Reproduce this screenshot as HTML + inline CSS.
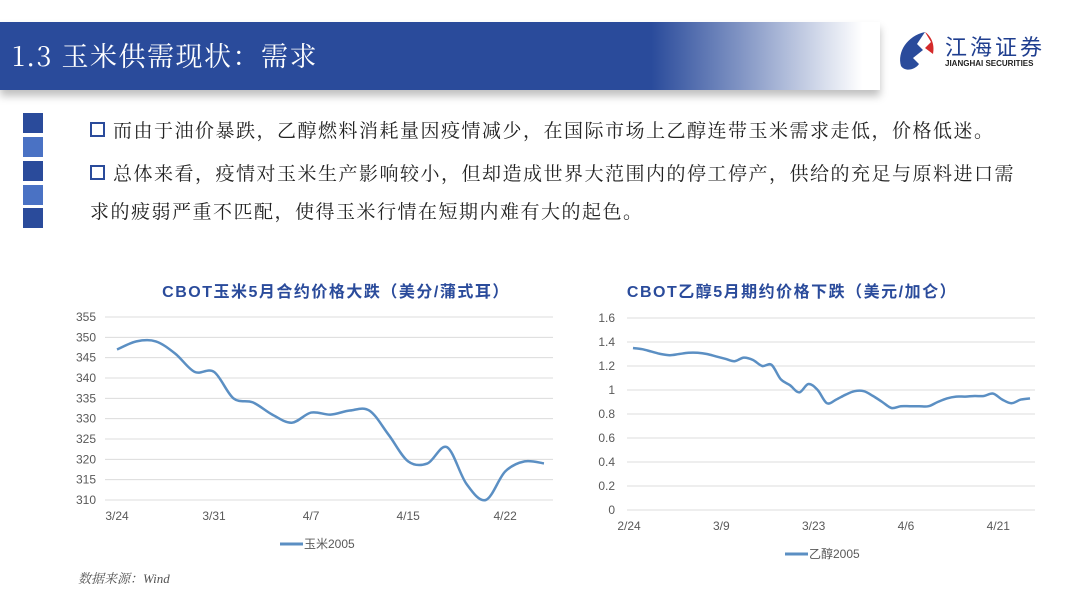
<!DOCTYPE html>
<html><head><meta charset="utf-8"><style>
body{margin:0;width:1080px;height:608px;background:#fff;overflow:hidden;position:relative;font-family:"Liberation Sans","Noto Sans CJK SC",sans-serif}
.banner{position:absolute;left:0;top:22px;width:880px;height:68px;background:linear-gradient(to right,#2a4b9b 0%,#2a4b9b 74%,rgba(42,75,155,0.6) 84%,rgba(255,255,255,0) 98%);box-shadow:0 6px 8px rgba(0,0,0,0.25)}
.title{position:absolute;left:12px;top:35px;color:#fff;font-size:27px;font-family:"Noto Serif CJK SC","Liberation Serif",serif;letter-spacing:1.5px}
.sq{position:absolute;left:23px;width:20px;height:20px}
.txt{position:absolute;left:90px;font-size:19px;color:#222;font-family:"Noto Serif CJK SC","Liberation Serif",serif;letter-spacing:1.5px;white-space:nowrap}
.bx{display:inline-block;width:11px;height:11px;border:2px solid #2a4b9b;margin-right:8px;vertical-align:0px}
.src{position:absolute;left:78px;top:568px;font-size:13px;color:#555;font-style:italic;font-family:"Liberation Serif","Noto Serif CJK SC",serif}
</style></head><body>
<div class="banner"></div>
<div class="title">1.3 玉米供需现状：需求</div>
<div style="position:absolute;left:895px;top:28px;width:170px;height:46px">
<svg width="50" height="46" style="position:absolute;left:0;top:0"><path d="M30 4 C12 8 2 24 6 38 C10 44 20 42 24 36 L18 30 L28 22 L22 16 Z" fill="#2a4b9b"/><path d="M30 4 L36 14 L30 20 L38 26 C40 16 36 8 30 4Z" fill="#d42a2a"/></svg>
<div style="position:absolute;left:50px;top:2px;font-size:22px;color:#1f3e8f;letter-spacing:3px">江海证券</div>
<div style="position:absolute;left:50px;top:31px;font-size:8px;font-weight:bold;color:#222">JIANGHAI SECURITIES</div>
</div>
<div class="sq" style="top:113px;background:#2a4b9b"></div>
<div class="sq" style="top:137px;background:#4a72c4"></div>
<div class="sq" style="top:161px;background:#2a4b9b"></div>
<div class="sq" style="top:185px;background:#4a72c4"></div>
<div class="sq" style="top:208px;background:#2a4b9b"></div>
<div class="txt" style="top:116px"><span class="bx"></span>而由于油价暴跌，乙醇燃料消耗量因疫情减少，在国际市场上乙醇连带玉米需求走低，价格低迷。</div>
<div class="txt" style="top:154px;line-height:38px"><span class="bx"></span>总体来看，疫情对玉米生产影响较小，但却造成世界大范围内的停工停产，供给的充足与原料进口需<br>求的疲弱严重不匹配，使得玉米行情在短期内难有大的起色。</div>
<svg id="c" width="1080" height="608" style="position:absolute;left:0;top:0"></svg>
<div class="src">数据来源：Wind</div>
<script>
const cornDates=["3/24","3/31","4/7","4/15","4/22"];
const cornTickIdx=[0,5,10,15,20];
const cornValues=[347,349,349,346,341.5,341.5,335,334,331,329,331.5,331,332,332,326,319.5,319,323,314,310,317,319.5,319];
const cornYTicks=[310,315,320,325,330,335,340,345,350,355];
const ethDates=["2/24","3/9","3/23","4/6","4/21"];
const ethTickIdx=[0,10,20,30,40];
const ethValues=[1.35,1.34,1.32,1.30,1.29,1.30,1.31,1.31,1.30,1.28,1.26,1.24,1.27,1.25,1.20,1.21,1.09,1.04,0.98,1.05,1.00,0.89,0.92,0.96,0.99,0.99,0.95,0.90,0.85,0.865,0.865,0.865,0.865,0.90,0.93,0.945,0.945,0.95,0.95,0.97,0.92,0.89,0.92,0.93];
const ethYTicks=[0,0.2,0.4,0.6,0.8,1,1.2,1.4,1.6];
const NS="http://www.w3.org/2000/svg";
const svg=document.getElementById('c');
function mk(t,a,p){const e=document.createElementNS(NS,t);for(const k in a)e.setAttribute(k,a[k]);(p||svg).appendChild(e);return e;}
function smooth(pts){let d="M"+pts[0][0]+","+pts[0][1];for(let i=0;i<pts.length-1;i++){const p0=pts[i-1]||pts[i],p1=pts[i],p2=pts[i+1],p3=pts[i+2]||p2;d+=" C"+(p1[0]+(p2[0]-p0[0])/6)+","+(p1[1]+(p2[1]-p0[1])/6)+" "+(p2[0]-(p3[0]-p1[0])/6)+","+(p2[1]-(p3[1]-p1[1])/6)+" "+p2[0]+","+p2[1];}return d;}
function chart(o){
  const y=v=>o.y0-(v-o.vmin)/(o.vmax-o.vmin)*(o.y0-o.y1);
  const x=i=>o.xs+i*(o.xe-o.xs)/(o.vals.length-1);
  let t=mk('text',{x:o.tx,y:o.ty,'font-size':16,'font-weight':'bold',fill:'#2a4b9b','text-anchor':'middle','letter-spacing':o.ls});
  t.textContent=o.title;
  o.yt.forEach(v=>{const g=mk('line',{x1:o.gx0,x2:o.gx1,y1:y(v),y2:y(v),stroke:'#dcdcdc','stroke-width':1});
    
    const l=mk('text',{x:o.lx,y:y(v)+4,'font-size':12,fill:'#595959','text-anchor':'end'});
    l.textContent=v;});
  o.dates.forEach((d,k)=>{const l=mk('text',{x:x(o.ti[k])+o.dx,y:o.y0+20,'font-size':12,fill:'#595959','text-anchor':'middle'});
    l.textContent=d;});
  const p=mk('path',{d:smooth(o.vals.map((v,i)=>[x(i),y(v)])),fill:'none',stroke:'#5b8fc3','stroke-width':2.5});
  
  const lg=mk('line',{x1:o.legx,x2:o.legx+23,y1:o.legy,y2:o.legy,stroke:'#5b8fc3','stroke-width':3});
  
  const lt=mk('text',{x:o.legx+24,y:o.legy+4,'font-size':12,fill:'#595959'});
  lt.textContent=o.leg;
}
chart({name:'corn-chart',title:'CBOT玉米5月合约价格大跌（美分/蒲式耳）',ls:1.5,tx:336,ty:297,vals:cornValues,dates:cornDates,ti:cornTickIdx,yt:cornYTicks,vmin:310,vmax:355,y0:500,y1:317,xs:117,xe:544,gx0:105,gx1:553,lx:96,dx:0,legx:280,legy:544,leg:'玉米2005'});
chart({name:'ethanol-chart',title:'CBOT乙醇5月期约价格下跌（美元/加仑）',ls:1.5,tx:792,ty:297,vals:ethValues,dates:ethDates,ti:ethTickIdx,yt:ethYTicks,vmin:0,vmax:1.6,y0:510,y1:318,xs:633,xe:1030,gx0:627,gx1:1035,lx:615,dx:-4,legx:785,legy:554,leg:'乙醇2005'});
</script>
</body></html>
